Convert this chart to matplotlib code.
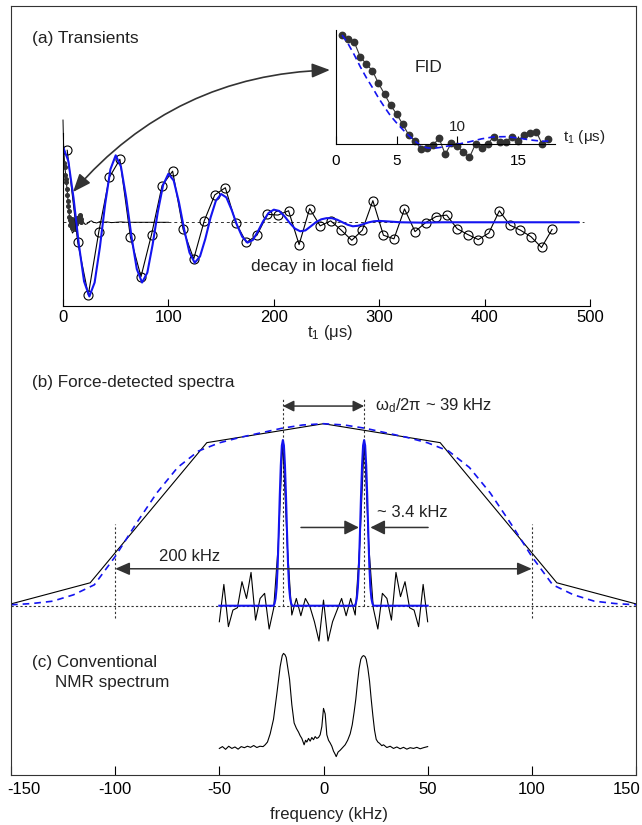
import numpy as np
import matplotlib
matplotlib.use("Agg")
import matplotlib.pyplot as plt
import matplotlib.transforms as mtransforms

plt.rcParams["font.family"] = ["Liberation Sans", "DejaVu Sans"]
plt.rcParams["mathtext.fontset"] = "custom"
plt.rcParams["mathtext.rm"] = "Liberation Sans"
plt.rcParams["mathtext.it"] = "Liberation Sans:italic"
plt.rcParams["axes.unicode_minus"] = False

BLUE = "#1414f0"
DARK = "#333333"

# ---------------- (a) transients ----------------
# decay in local field, open circles every ~10 us
decay_t = np.arange(4, 465, 10)
decay_y = [1.0, -0.28, -1.01, -0.13, 0.625, 0.875, -0.21, -0.755, -0.17, 0.51,
           0.71, -0.10, -0.51, 0.02, 0.38, 0.48, -0.01, -0.28, -0.18, 0.11,
           0.10, 0.16, -0.31, 0.19, -0.05, 0.02, -0.11, -0.25, -0.11, 0.30,
           -0.18, -0.23, 0.185, -0.13, -0.005, 0.08, 0.10, -0.09, -0.17, -0.24,
           -0.15, 0.16, -0.04, -0.11, -0.20, -0.35, -0.10]

# blue fit of the local-field decay
decay_fit_t = list(range(0, 301, 5)) + [305, 310, 320, 340, 360, 400, 450, 489]
decay_fit_y = [1.05, 0.854, 0.337, -0.303, -0.822, -1.03, -0.837, -0.346, 0.254, 0.736,
               0.93, 0.771, 0.336, -0.201, -0.649, -0.837, -0.700, -0.313, 0.148, 0.519,
               0.674, 0.580, 0.279, -0.104, -0.421, -0.563, -0.474, -0.232, 0.065, 0.297,
               0.393, 0.345, 0.172, -0.035, -0.200, -0.283, -0.248, -0.124, 0.017, 0.129,
               0.175, 0.158, 0.087, -0.007, -0.087, -0.125, -0.113, -0.057, 0.001, 0.041,
               0.057, 0.057, 0.036, 0.001, -0.034, -0.056, -0.048, -0.025, -0.001, 0.014,
               0.019, 0.015, 0.01, 0.0, -0.005, 0.0, 0.0, 0.0, 0.0]

# FID trace drawn thin on the large scale
fid_trace_t = [0, 0.5, 1.5, 3, 4.5, 6, 7.5, 9, 10.5, 12, 13.5, 15, 16.5, 18, 19.5, 21,
               23, 25, 27, 29, 32, 35, 38, 42, 46, 50, 55, 60, 70, 80, 90, 100]
fid_trace_y = [1.42, 1.1, 0.8, 0.6, 0.35, 0.1, -0.08, -0.15, -0.12, -0.05, 0.02, 0.05,
               0.06, 0.04, 0.0, -0.03, -0.02, 0.01, 0.02, 0.0, -0.01, 0.01, 0.0, 0.005,
               -0.005, 0.0, 0.005, 0.0, 0.0, 0.0, 0.0, 0.0]

# FID (inset), filled dots every 0.5 us
fid_t = np.arange(0.5, 17.6, 0.5)
fid_y = [1.0, 0.96, 0.936, 0.80, 0.735, 0.674, 0.558, 0.46, 0.357, 0.277,
         0.183, 0.085, 0.034, -0.046, -0.037, -0.006, 0.055, -0.091, 0.009, -0.015,
         -0.073, -0.119, 0.003, -0.03, 0.003, 0.07, 0.024, 0.024, 0.07, 0.034,
         0.085, 0.10, 0.116, 0.0, 0.049]
fid_main_scale = 0.82

fid_fit_t = [0.5, 1, 1.5, 2, 2.5, 3, 3.5, 4, 4.5, 5, 5.5, 6, 6.5, 7, 7.5, 8, 8.5, 9,
             10, 11, 12, 13, 14, 15, 16, 17, 17.5]
fid_fit_y = [1.0, 0.92, 0.82, 0.71, 0.61, 0.52, 0.425, 0.34, 0.26, 0.195, 0.135, 0.08,
             0.03, -0.012, -0.032, -0.037, -0.03, -0.02, 0.0, 0.023, 0.05, 0.068, 0.07,
             0.058, 0.04, 0.028, 0.03]

# ---------------- (b) force-detected spectra ----------------
broad_x = [-150, -112, -56, 0, 56, 112, 150]
broad_y = [0.01, 0.126, 0.896, 1.0, 0.896, 0.126, 0.01]

broad_fit_x = np.arange(-150, 151, 10)
_half = [0.005, 0.012, 0.025, 0.06, 0.115, 0.27, 0.45, 0.62, 0.76, 0.85, 0.895,
         0.925, 0.95, 0.975, 0.993]
broad_fit_y = _half + [1.0] + _half[::-1]

# narrow (decoupled) spectrum, sampled every ~2.2 kHz
narrow_x = np.linspace(-50, 50, 47)
narrow_y = [-0.088, 0.117, -0.115, -0.024, -0.011, 0.132, 0.04, 0.183, -0.079, 0.04,
            0.068, -0.128, -0.014, 0.33, 0.91, 0.33, -0.051, 0.04, -0.055, 0.04,
            -0.005, -0.088, -0.194, 0.031, -0.194, -0.088, -0.024, 0.04, -0.055, 0.04,
            -0.051, 0.33, 0.91, 0.33, -0.014, -0.128, 0.068, 0.04, -0.079, 0.183,
            0.05, 0.132, -0.011, -0.024, -0.115, 0.117, -0.088]

# blue fit: two lines at +-19.5 kHz
line_centers = [-19.5, 19.5]
peak_dx = [-4.5, -4, -3.5, -3, -2.5, -2, -1.5, -1, -0.5, 0, 0.5, 1, 1.5, 2, 2.5, 3, 3.5, 4, 4.5]
peak_h = [0, 0.012, 0.04, 0.1, 0.22, 0.4, 0.6, 0.77, 0.88, 0.91, 0.88, 0.77, 0.6, 0.4,
          0.22, 0.1, 0.04, 0.012, 0]

# ---------------- (c) conventional NMR spectrum ----------------
conv_x = [-50, -48.5, -47, -45.5, -44, -42.5, -41, -39.5, -38, -36.5, -35, -33.5, -32,
          -30.5, -29, -28, -26.9, -25.6, -24, -22.4, -20.8, -19.8, -19.2, -18.5, -17.9,
          -16.3, -15.2, -14.1, -13, -12, -11.2, -10.4, -9.3, -8.6, -8, -7.2, -6.4, -5.6,
          -4.8, -4, -3.2, -2.4, -1.6, -0.8, 0, 0.8, 1.6, 2.4, 3.2, 4, 4.8, 5.5, 6.1, 7,
          8, 9.2, 10.4, 11.6, 12.8, 13.8, 14.7, 15.5, 16.3, 17.1, 17.9, 18.6, 19.2, 19.9,
          20.5, 21.3, 22.1, 22.9, 23.7, 24.5, 25.3, 26.1, 26.9, 28, 28.8, 30.4, 32, 33.6,
          35.2, 36.8, 38.4, 40, 41.6, 43.2, 44.8, 46.4, 48, 50]
conv_y = [0.0, 0.01, -0.005, 0.012, 0.0, 0.008, -0.004, 0.01, 0.004, 0.012, 0.006, 0.016,
          0.005, 0.012, 0.01, 0.02, 0.035, 0.08, 0.16, 0.30, 0.45, 0.51, 0.522, 0.515,
          0.50, 0.38, 0.24, 0.14, 0.11, 0.09, 0.07, 0.055, 0.02, 0.045, 0.035, 0.055,
          0.04, 0.06, 0.048, 0.065, 0.055, 0.06, 0.075, 0.12, 0.22, 0.19, 0.075, 0.045,
          0.03, 0.012, -0.015, -0.03, -0.045, -0.02, -0.01, 0.005, 0.02, 0.045, 0.08,
          0.13, 0.20, 0.27, 0.36, 0.44, 0.49, 0.505, 0.51, 0.505, 0.49, 0.44, 0.37, 0.27,
          0.18, 0.1, 0.05, 0.035, 0.028, 0.015, 0.02, 0.005, 0.012, 0.0, 0.008, -0.002,
          0.006, -0.004, 0.004, 0.0, 0.006, -0.002, 0.004, 0.01]
conv_offset = -0.784

freq_ticks = list(range(-150, 151, 50))
time_ticks = list(range(0, 501, 100))

# ---------------- figure ----------------
W, H = 642, 825
fig = plt.figure(figsize=(W / 100, H / 100), dpi=100)


def box(left, top, right, bottom):
    return [left / W, 1 - bottom / H, (right - left) / W, (bottom - top) / H]


ax_b = fig.add_axes(box(11, 6, 636, 775))
ax_a = fig.add_axes(box(63, 133, 590, 305.5))
ax_in = fig.add_axes(box(336, 30, 555, 166))
for ax in (ax_a, ax_in):
    ax.patch.set_alpha(0)

# --- lower frame with spectra
ax_b.set_xlim(-150, 150)
ax_b.set_ylim(-0.930, 3.295)
ax_b.set_xticks(freq_ticks)
ax_b.set_yticks([])
ax_b.tick_params(axis="x", direction="in", length=6.3, width=0.8, pad=5, labelsize=12)
for s in ax_b.spines.values():
    s.set_linewidth(0.8)
    s.set_color(DARK)
# keep the end labels inside the frame, as in the original
fig.canvas.draw()
labels = ax_b.get_xticklabels()
labels[0].set_horizontalalignment("left")
labels[0].set_transform(labels[0].get_transform()
                        + mtransforms.ScaledTranslation(-4 / 100, 0, fig.dpi_scale_trans))
labels[-1].set_horizontalalignment("right")
labels[-1].set_transform(labels[-1].get_transform()
                         + mtransforms.ScaledTranslation(5 / 100, 0, fig.dpi_scale_trans))

dot = (0, (2, 2))
ax_b.axhline(0, color=DARK, lw=0.8, ls=dot)
ax_b.vlines([-100, 100], -0.07, 0.45, color=DARK, lw=0.8, ls=dot)
ax_b.vlines(line_centers, 0, 1.136, color=DARK, lw=0.8, ls=dot)

ax_b.plot(broad_x, broad_y, color="k", lw=0.8)
ax_b.plot(broad_fit_x, broad_fit_y, color=BLUE, lw=1.2, dashes=(4, 3))
ax_b.plot(narrow_x, narrow_y, color="k", lw=0.8)
nx = [-50] + [c + d for c in line_centers for d in peak_dx] + [50]
ny = [0] + peak_h * 2 + [0]
ax_b.plot(nx, ny, color=BLUE, lw=1.5)
ax_b.plot(conv_x, np.array(conv_y) + conv_offset, color="k", lw=0.8)

arrow_kw = dict(color=DARK, lw=1.1, shrinkA=0, shrinkB=0, mutation_scale=11)
ax_b.annotate("", xy=(19.5, 1.097), xytext=(-19.5, 1.097),
              arrowprops=dict(arrowstyle="<|-|>,head_length=0.6,head_width=0.3", **arrow_kw))
ax_b.annotate("", xy=(100, 0.203), xytext=(-100, 0.203),
              arrowprops=dict(arrowstyle="<|-|>,head_length=0.8,head_width=0.35", **arrow_kw))
ax_b.annotate("", xy=(17.0, 0.43), xytext=(-10.8, 0.43),
              arrowprops=dict(arrowstyle="-|>,head_length=0.8,head_width=0.4", **arrow_kw))
ax_b.annotate("", xy=(22.5, 0.43), xytext=(50.2, 0.43),
              arrowprops=dict(arrowstyle="-|>,head_length=0.8,head_width=0.4", **arrow_kw))
ax_b.text(24.7, 1.097, r"ω$_\mathrm{d}$/2π ~ 39 kHz", fontsize=12, va="center", color="#222")
ax_b.text(25.8, 0.51, "~ 3.4 kHz", fontsize=12, va="center", color="#222")
ax_b.text(-78.9, 0.27, "200 kHz", fontsize=12, va="center", color="#222")
ax_b.text(0.509, -0.052, "frequency (kHz)", transform=ax_b.transAxes, fontsize=12,
          ha="center", va="center", color="#222")

# --- (a) transients
ax_a.set_xlim(0, 500)
ax_a.set_ylim(-1.156, 1.240)
ax_a.set_xticks(time_ticks)
ax_a.set_yticks([])
ax_a.tick_params(axis="x", direction="in", length=5, width=0.8, pad=3.5, labelsize=12)
ax_a.spines["top"].set_visible(False)
ax_a.spines["right"].set_visible(False)
for s in ("left", "bottom"):
    ax_a.spines[s].set_linewidth(0.8)

ax_a.plot([0, 494], [0, 0], color=DARK, lw=0.7, ls=(0, (3, 3)))
ax_a.plot(fid_trace_t, fid_trace_y, color="k", lw=0.7, clip_on=False)
ax_a.plot(fid_t, np.array(fid_y) * fid_main_scale, "o", ms=2.6, color=DARK)
ax_a.plot(decay_t, decay_y, color="k", lw=0.8, marker="o", ms=6.5, mfc="none",
          mec="k", mew=0.8)
ax_a.plot(decay_fit_t, decay_fit_y, color=BLUE, lw=1.5)
ax_a.text(178.4, -0.62, "decay in local field", fontsize=12.5, va="center", color="#222")
ax_a.text(0.507, -0.154, "t$_1$ (μs)", transform=ax_a.transAxes, fontsize=12,
          ha="center", va="center", color="#222")

ax_a.annotate("", xy=(-0.5, 0.68), xycoords=ax_in.transData,
              xytext=(9.5, 0.42), textcoords=ax_a.transData, annotation_clip=False,
              arrowprops=dict(arrowstyle="<|-|>,head_length=0.55,head_width=0.22",
                              connectionstyle="arc3,rad=-0.22", color=DARK, lw=1.2,
                              shrinkA=0, shrinkB=0, mutation_scale=20))

# --- inset FID
ax_in.set_xlim(0, 18.05)
ax_in.set_ylim(-0.1985, 1.046)
ax_in.spines["top"].set_visible(False)
ax_in.spines["right"].set_visible(False)
ax_in.spines["bottom"].set_position(("data", 0))
ax_in.spines["left"].set_bounds(0, 1.046)
for s in ("left", "bottom"):
    ax_in.spines[s].set_linewidth(0.8)
ax_in.set_xticks([0, 5, 10, 15])
ax_in.set_xticklabels(["0", "5", "", "15"])
ax_in.set_yticks([])
ax_in.tick_params(axis="x", direction="in", length=5.5, width=0.8, pad=7, labelsize=11)
ax_in.plot(fid_t, fid_y, color=DARK, lw=0.8, marker="o", ms=4.6)
ax_in.plot(fid_fit_t, fid_fit_y, color=BLUE, lw=1.2, dashes=(4, 2.5))
ax_in.text(10, 0.158, "10", fontsize=11, ha="center", va="center", color="#222")
ax_in.text(6.5, 0.707, "FID", fontsize=12.5, va="center", color="#222")
ax_in.text(18.7, 0.07, "t$_1$ (μs)", fontsize=11, va="center", color="#222")

# panel labels
fig.text(32 / W, 1 - 39 / H, "(a) Transients", fontsize=12.5, va="center", color="#222")
fig.text(32 / W, 1 - 383 / H, "(b) Force-detected spectra", fontsize=12.3, va="center", color="#222")
fig.text(32 / W, 1 - 662 / H, "(c) Conventional", fontsize=12.3, va="center", color="#222")
fig.text(55 / W, 1 - 682 / H, "NMR spectrum", fontsize=12.3, va="center", color="#222")

fig.savefig("out.png", dpi=100)
